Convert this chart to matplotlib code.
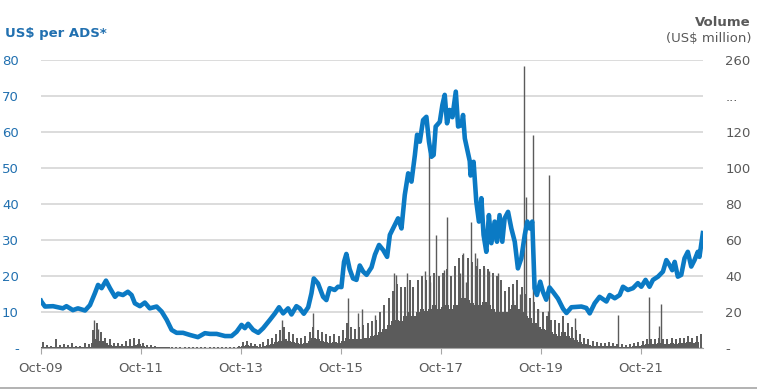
import numpy as np
import pandas as pd
import matplotlib
matplotlib.use("Agg")
import matplotlib.pyplot as plt
import matplotlib.dates as mdates
from matplotlib.lines import Line2D

# --- DATA ---
# share price, US$ per ADS
price_dates = [
    "2009-10-01", "2009-10-05", "2009-10-30", "2009-12-28", "2010-03-10", "2010-04-05",
    "2010-05-22", "2010-06-28", "2010-08-19", "2010-09-24", "2010-10-31", "2010-11-22",
    "2010-12-18", "2011-01-19", "2011-02-17", "2011-03-26", "2011-04-17", "2011-05-23",
    "2011-06-28", "2011-07-25", "2011-08-18", "2011-09-24", "2011-10-30", "2011-12-05",
    "2012-01-24", "2012-03-01", "2012-04-07", "2012-05-13", "2012-06-18", "2012-08-04",
    "2012-09-24", "2012-11-21", "2013-01-11", "2013-02-17", "2013-04-07", "2013-06-07",
    "2013-07-25", "2013-08-31", "2013-10-06", "2013-10-30", "2013-11-23", "2013-12-30",
    "2014-02-05", "2014-03-13", "2014-05-01", "2014-06-07", "2014-07-07", "2014-08-06",
    "2014-09-11", "2014-10-06", "2014-11-11", "2014-12-05", "2015-01-04", "2015-02-05",
    "2015-03-01", "2015-03-18", "2015-04-18", "2015-05-25", "2015-06-18", "2015-07-12",
    "2015-08-18", "2015-09-11", "2015-10-06", "2015-10-25", "2015-11-11", "2015-12-05",
    "2015-12-30", "2016-01-24", "2016-02-17", "2016-03-13", "2016-04-07", "2016-05-13",
    "2016-06-07", "2016-07-07", "2016-08-06", "2016-09-04", "2016-09-24", "2016-10-30",
    "2016-11-23", "2016-12-18", "2017-01-11", "2017-02-05", "2017-03-01", "2017-03-26",
    "2017-04-11", "2017-05-01", "2017-05-25", "2017-06-18", "2017-07-07", "2017-07-25",
    "2017-08-10", "2017-08-25", "2017-09-24", "2017-10-13", "2017-10-30", "2017-11-16",
    "2017-12-05", "2017-12-25", "2018-01-19", "2018-02-05", "2018-03-01", "2018-03-13",
    "2018-03-26", "2018-05-01", "2018-05-07", "2018-05-29", "2018-06-18", "2018-07-07",
    "2018-07-25", "2018-08-10", "2018-08-30", "2018-09-18", "2018-10-06", "2018-10-30",
    "2018-11-16", "2018-12-05", "2018-12-25", "2019-01-11", "2019-02-05", "2019-03-01",
    "2019-03-26", "2019-04-18", "2019-05-13", "2019-06-07", "2019-06-26", "2019-07-12",
    "2019-08-01", "2019-08-18", "2019-09-04", "2019-09-28", "2019-10-18", "2019-11-11",
    "2019-12-05", "2019-12-30", "2020-02-05", "2020-03-13", "2020-04-07", "2020-05-13",
    "2020-06-18", "2020-07-25", "2020-08-30", "2020-09-24", "2020-10-30", "2020-12-05",
    "2021-01-24", "2021-02-17", "2021-03-26", "2021-05-01", "2021-05-25", "2021-06-30",
    "2021-08-06", "2021-09-11", "2021-10-06", "2021-11-06", "2021-12-05", "2021-12-30",
    "2022-02-05", "2022-03-13", "2022-04-07", "2022-05-01", "2022-05-20", "2022-06-07",
    "2022-06-30", "2022-07-25", "2022-08-18", "2022-09-11", "2022-10-06", "2022-10-30",
    "2022-11-23", "2022-12-05", "2022-12-30",
]
price = [
    13.2, 12.9, 11.6, 11.7, 11.1, 11.7,
    10.6, 11.1, 10.5, 12.0, 15.4, 17.6,
    16.7, 18.8, 16.7, 14.3, 15.2, 14.8,
    15.7, 14.8, 12.5, 11.7, 12.7, 11.1,
    11.6, 10.2, 7.9, 5.1, 4.3, 4.3,
    3.7, 3.1, 4.2, 4.0, 4.0, 3.4,
    3.4, 4.6, 6.5, 5.6, 6.8, 5.1,
    4.3, 5.6, 7.9, 9.7, 11.4, 9.7,
    11.1, 9.4, 11.7, 11.1, 9.6, 11.4,
    15.3, 19.4, 18.0, 14.3, 13.4, 16.7,
    16.2, 17.1, 17.0, 24.0, 26.2, 22.0,
    19.4, 19.0, 23.0, 21.3, 20.4, 22.5,
    26.0, 28.7, 27.3, 25.4, 31.5, 34.3,
    36.1, 33.3, 42.6, 48.6, 46.3, 53.7,
    59.3, 57.4, 63.4, 64.3, 57.4, 53.2,
    53.7, 61.6, 62.9, 67.6, 70.4, 62.5,
    66.2, 64.2, 71.3, 61.6, 62.0, 64.8,
    58.3, 52.0, 48.0, 51.8, 40.7, 35.2,
    41.7, 31.5, 26.8, 37.0, 29.2, 35.2,
    29.6, 37.0, 29.6, 36.1, 37.9, 33.3,
    29.6, 22.2, 25.0, 31.5, 35.2, 33.3,
    35.2, 16.7, 14.8, 18.5, 15.7, 13.5,
    16.9, 15.7, 13.8, 11.0, 9.8, 11.4,
    11.5, 11.6, 11.2, 9.7, 12.5, 14.3,
    13.0, 14.8, 13.9, 14.8, 17.1, 16.2,
    16.7, 18.1, 17.1, 19.0, 17.1, 19.0,
    19.9, 21.3, 24.5, 23.1, 21.7, 24.0,
    19.9, 20.4, 25.0, 26.8, 22.7, 24.5,
    26.8, 25.4, 32.0,
]

# monthly traded volume, US$ million: typical level and monthly high
vol_months = pd.date_range("2009-10-01", "2022-12-01", freq="MS")
vol_base = [
    1.0, 0.8, 0.8,
    0.8, 0.7, 0.8, 0.7, 0.8, 0.7, 0.6, 0.7, 0.8, 3.0, 5.0, 4.0,
    3.0, 2.0, 1.5, 1.2, 1.2, 1.2, 1.5, 2.0, 2.5, 1.5, 1.0, 0.8,
    0.6, 0.5, 0.5, 0.5, 0.4, 0.4, 0.3, 0.3, 0.3, 0.3, 0.3, 0.3,
    0.3, 0.3, 0.3, 0.3, 0.3, 0.3, 0.3, 0.4, 0.6, 1.5, 2.0, 1.5,
    1.2, 1.0, 1.5, 2.0, 2.5, 3.5, 4.0, 5.0, 4.0, 3.5, 3.0, 2.5,
    3.0, 4.0, 6.0, 5.0, 4.0, 3.5, 3.0, 3.5, 3.0, 4.0, 6.0, 5.0,
    5.0, 5.0, 5.5, 6.0, 7.0, 7.5, 9.0, 11.0, 13.0, 15.0, 16.0, 15.0,
    18.0, 20.0, 18.0, 20.0, 22.0, 21.0, 22.0, 24.0, 22.0, 23.0, 24.0, 22.0,
    24.0, 26.0, 28.0, 27.0, 25.0, 24.0, 24.0, 26.0, 24.0, 22.0, 20.0, 20.0,
    20.0, 22.0, 24.0, 22.0, 20.0, 18.0, 17.0, 14.0, 12.0, 11.0, 10.0, 9.0,
    8.0, 7.0, 9.0, 7.0, 6.0, 4.5, 3.5, 2.5, 2.0, 1.5, 1.5, 1.2,
    1.2, 1.5, 1.2, 1.0, 1.0, 0.8, 1.0, 1.2, 1.5, 2.0, 2.5, 2.5,
    2.5, 3.0, 2.5, 2.5, 3.0, 2.5, 3.0, 3.0, 3.5, 3.0, 3.5, 4.0,
]
vol_high = [
    3.5, 2.0, 1.5,
    5.0, 2.0, 2.5, 2.0, 3.0, 1.5, 1.5, 3.0, 2.5, 10.0, 14.0, 9.0,
    6.0, 5.0, 3.0, 3.0, 2.5, 4.0, 5.0, 6.0, 5.0, 3.0, 2.0, 2.0,
    1.5, 1.0, 1.0, 1.0, 0.8, 0.8, 0.6, 0.6, 0.6, 0.6, 0.6, 0.6,
    0.5, 0.5, 0.5, 0.5, 0.5, 0.5, 0.5, 0.8, 1.5, 3.5, 4.0, 3.0,
    2.5, 2.5, 3.5, 5.0, 6.0, 8.0, 10.0, 12.0, 9.0, 8.0, 6.0, 6.0,
    7.0, 9.0, 12.0, 10.0, 9.0, 8.0, 7.0, 8.0, 7.0, 10.0, 14.0, 12.0,
    11.0, 12.0, 13.0, 14.0, 15.0, 16.0, 20.0, 24.0, 28.0, 32.0, 36.0, 34.0,
    34.0, 38.0, 34.0, 38.0, 40.0, 38.0, 40.0, 42.0, 40.0, 42.0, 44.0, 40.0,
    46.0, 50.0, 52.0, 50.0, 48.0, 46.0, 44.0, 46.0, 44.0, 42.0, 40.0, 38.0,
    32.0, 34.0, 36.0, 38.0, 34.0, 30.0, 28.0, 26.0, 22.0, 20.0, 18.0, 16.0,
    16.0, 14.0, 18.0, 14.0, 12.0, 10.0, 8.0, 6.0, 5.0, 4.0, 3.5, 3.0,
    3.0, 3.5, 3.0, 2.5, 2.5, 2.0, 2.5, 3.0, 3.5, 4.0, 5.0, 5.0,
    5.0, 6.0, 5.0, 5.0, 6.0, 5.0, 6.0, 6.0, 7.0, 6.0, 7.0, 8.0,
]

# single-day volume spikes, US$ million
spike_dates = [
    "2010-10-25", "2010-11-23", "2014-07-29", "2015-03-13", "2015-11-23", "2016-02-05",
    "2016-03-04", "2016-06-07", "2016-10-23", "2016-11-11", "2017-01-26", "2017-06-07",
    "2017-07-05", "2017-07-12", "2017-08-25", "2017-10-23", "2017-11-14", "2018-02-17",
    "2018-03-13", "2018-04-07", "2018-05-13", "2018-06-07", "2018-06-23", "2018-08-10",
    "2018-09-18", "2018-11-21", "2019-03-11", "2019-05-01", "2019-05-29", "2019-06-14",
    "2019-08-10", "2019-09-11", "2019-11-21", "2019-11-28", "2020-06-07", "2021-04-18",
    "2021-11-30", "2022-02-12", "2022-03-01",
]
spike_vol = [
    15.7, 11.0, 15.7, 19.4, 27.8, 19.4,
    22.0, 18.3, 42.0, 41.0, 42.0, 43.0,
    108.0, 37.0, 63.0, 43.5, 73.0, 42.0,
    52.8, 37.0, 70.3, 52.8, 50.0, 44.6,
    42.8, 42.0, 27.0, 30.0, 241.0, 84.2,
    118.5, 22.0, 21.0, 96.3, 17.0, 18.5,
    28.7, 12.6, 24.4,
]

left_ticks = [0, 10, 20, 30, 40, 50, 60, 70, 80]
right_ticks = [0, 20, 40, 60, 80, 100, 120, 140, 160]
right_labels = ["-", "20", "40", "60", "80", "100", "120", "...", "260"]

BLUE = "#0B7AC4"
LABEL_BLUE = "#2170B0"
GREY = "#595959"
BAR_GREY = "#5B5B5B"


def vol_axis(v):
    # right axis is broken above 140: the top step is 140 -> 260
    v = np.asarray(v, dtype=float)
    return np.where(v <= 140, v, 140 + (v - 140) * 20 / 120)


price_dates = pd.to_datetime(price_dates)
spike_dates = pd.to_datetime(spike_dates)

fig = plt.figure(figsize=(7.57, 3.9), dpi=100)
ax2 = fig.add_axes([41 / 757, 41.7 / 390, 662 / 757, 288 / 390])
ax = ax2.twinx()
ax.set_zorder(ax2.get_zorder() + 1)
ax.patch.set_visible(False)

# volume (right axis)
ax2.grid(axis="y", color="#D9D9D9", linewidth=1.3)
ax2.set_axisbelow(True)
ax2.fill_between(vol_months, 0, vol_base, step="post", color=BAR_GREY, linewidth=0)
ax2.vlines(vol_months + pd.Timedelta(days=14), 0, vol_high, color=BAR_GREY, linewidth=1.4)
ax2.vlines(spike_dates, 0, vol_axis(spike_vol), color=BAR_GREY, linewidth=1.0)
ax2.set_ylim(0, 160)

# price (left axis)
ax.plot(price_dates, price, color=BLUE, linewidth=3.3, solid_joinstyle="round")
ax.set_ylim(0, 80)

ax2.set_xlim(pd.Timestamp("2009-10-01"), pd.Timestamp("2022-12-31"))

# price labels on the left, volume labels on the right
ax.yaxis.tick_left()
ax2.yaxis.tick_right()
ax.set_yticks(left_ticks)
ax.set_yticklabels(["-"] + [str(t) for t in left_ticks[1:]])
ax2.set_yticks(right_ticks)
ax2.set_yticklabels(right_labels)
ax.tick_params(axis="y", length=0, pad=16, labelsize=9.5, labelcolor=LABEL_BLUE)
ax2.tick_params(axis="y", length=0, pad=16, labelsize=9.5, labelcolor=GREY)
for lab in ax2.get_yticklabels():
    lab.set_horizontalalignment("left")

xt = pd.to_datetime([f"{y}-10-01" for y in range(2009, 2022, 2)])
ax2.set_xticks(xt)
ax2.xaxis.set_major_formatter(mdates.DateFormatter("%b-%y"))
ax2.tick_params(axis="x", length=4, color="#A6A6A6", labelsize=9.5, labelcolor=GREY, pad=6)

for a in (ax, ax2):
    for s in ("top", "left", "right"):
        a.spines[s].set_visible(False)
ax.spines["bottom"].set_visible(False)
ax2.spines["bottom"].set_color("#A6A6A6")

fig.text(5 / 757, 1 - 33 / 390, "US$ per ADS*", color=LABEL_BLUE, fontsize=9.5,
         fontweight="bold", ha="left", va="center")
fig.text(751 / 757, 1 - 22 / 390, "Volume", color=GREY, fontsize=9.5,
         fontweight="bold", ha="right", va="center")
fig.text(751 / 757, 1 - 38.5 / 390, "(US$ million)", color=GREY, fontsize=9.5,
         ha="right", va="center")

fig.add_artist(Line2D([0, 1], [2 / 390, 2 / 390], color="#A6A6A6", linewidth=1.2))

fig.savefig("out.png", dpi=100)
